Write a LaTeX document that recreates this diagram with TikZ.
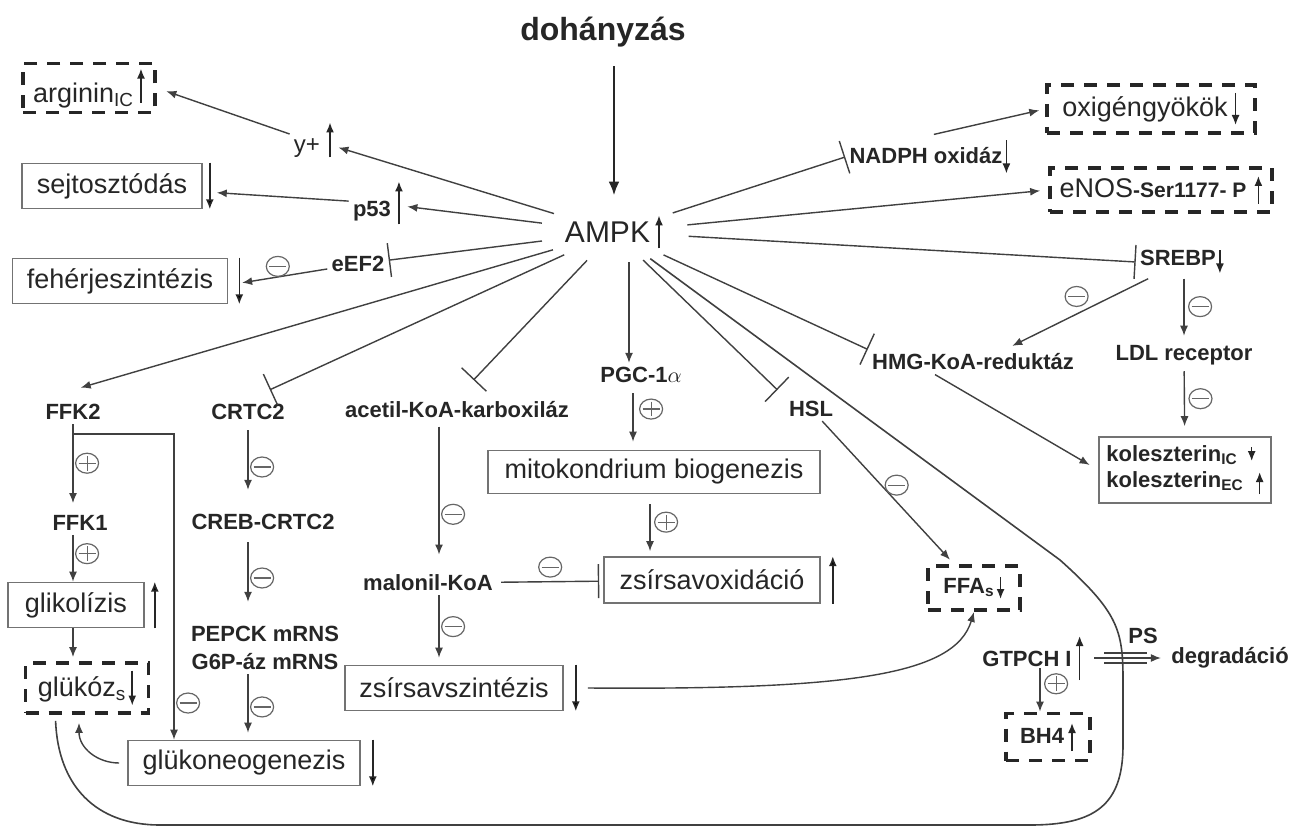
\documentclass[tikz,border=0pt]{standalone}
\usepackage{fontspec}
\setmainfont{Liberation Sans}
\usetikzlibrary{arrows.meta,shapes.geometric}
\tikzset{every edge/.style={draw, line width=0.7pt, black!75}}
\tikzset{
  lbl/.style={font=\fontsize{11}{14}\selectfont\bfseries, text=black!85, inner sep=2pt},
  doboz/.style={draw=black!55, line width=0.8pt, font=\fontsize{13.5}{16}\selectfont, text=black!85, inner sep=0pt},
  szagg/.style={draw=black!85, line width=1.9pt, dash pattern=on 6.5pt off 5pt, font=\fontsize{13.5}{16}\selectfont, text=black!85, inner sep=0pt},
  act/.style={-{Latex[length=5pt,width=4pt]}},
  inh/.style={-{Bar[width=17pt]}},
  ind/.style={solid, line width=0.8pt, draw=black!85, shorten <=0pt, shorten >=0pt, -{Latex[length=5pt,width=4pt]}},
  jel/.style={solid, draw=black!60, line width=0.6pt, arrows=-, shorten <=0pt, shorten >=0pt},
  kor/.style={ellipse, draw=black!60, line width=0.6pt, minimum width=11.5pt, minimum height=10pt, inner sep=0pt},
  minus/.style={kor, path picture={\draw[jel]
      ([xshift=1.5pt]path picture bounding box.west) -- ([xshift=-1.5pt]path picture bounding box.east);}},
  plus/.style={kor, path picture={\draw[jel]
      ([xshift=1.5pt]path picture bounding box.west) -- ([xshift=-1.5pt]path picture bounding box.east)
      ([yshift=-1.3pt]path picture bounding box.north) -- ([yshift=1.3pt]path picture bounding box.south);}}
}
\newcommand{\felnyil}[2][2pt]{\tikz[baseline=0pt]\draw[ind] (0pt,-#1) -- (0pt,#2);}
\newcommand{\lenyil}[2][2pt]{\tikz[baseline=0pt]\draw[ind] (0pt,#2) -- (0pt,-#1);}

\begin{document}
\begin{tikzpicture}[x=0.5pt, y=-0.5pt]
  \fill[white] (0,0) rectangle (1289,828);
  \useasboundingbox (0,0) rectangle (1289,828);

  \node[font=\fontsize{16}{18}\selectfont\bfseries, text=black!85] at (603, 32) (doh) {dohányzás};
  \node[ellipse, minimum width=75pt, minimum height=30pt, inner sep=0pt,
        font=\fontsize{15}{17}\selectfont, text=black!85] at (614, 232) (ampk) {AMPK\,\felnyil[3pt]{13.5pt}};

  % bal oldal
  \node[szagg, minimum width=66pt, minimum height=24.5pt] at (89, 88) (arginin) {arginin\textsubscript{IC}\hspace{1.5pt}\felnyil[0pt]{17pt}};
  \node[font=\fontsize{12}{14}\selectfont, text=black!85, inner sep=2pt] at (314, 140) (yplus) {y+\hspace{3pt}\felnyil[2.5pt]{15pt}};
  \node[doboz, minimum width=90pt, minimum height=22.5pt] at (112, 186) (sejt) {sejtosztódás};
  \node[lbl] at (378, 203) (p53) {p53\hspace{2pt}\felnyil[4pt]{17.5pt}};
  \node[doboz, minimum width=107.5pt, minimum height=22.5pt] at (120, 281) (feher) {fehérjeszintézis};
  \node[lbl] at (358, 264) (eef2) {eEF2};
  \node[lbl] at (73, 412) (ffk2) {FFK2};
  \node[lbl] at (80, 523) (ffk1) {FFK1};
  \node[doboz, minimum width=68pt, minimum height=22.5pt] at (76, 605) (glikol) {glikolízis};
  \node[szagg, minimum width=61.5pt, minimum height=25pt] at (87, 688) (glukoz) {glükóz\textsubscript{s}\hspace{1pt}\lenyil[4.5pt]{13pt}};
  \node[doboz, minimum width=116pt, minimum height=22.5pt] at (244, 763) (glukoneo) {glükoneogenezis};
  \node[lbl] at (248, 412) (crtc) {CRTC2};
  \node[lbl] at (263, 522) (creb) {CREB-CRTC2};
  \node[lbl, align=center] at (265, 648) (pepck) {PEPCK mRNS\\G6P-áz mRNS};

  % kozep
  \node[lbl] at (457, 410) (acetil) {acetil-KoA-karboxiláz};
  \node[lbl] at (428, 583) (malonil) {malonil-KoA};
  \node[doboz, minimum width=109pt, minimum height=22.5pt] at (454, 688) (zsszint) {zsírsavszintézis};
  \node[lbl] at (641, 375) (pgc) {PGC-1$\alpha$};
  \node[doboz, minimum width=166pt, minimum height=21.5pt] at (654, 472) (mito) {mitokondrium biogenezis};
  \node[doboz, minimum width=108pt, minimum height=23pt] at (712, 580) (zsox) {zsírsavoxidáció};
  \node[lbl] at (811, 409) (hsl) {HSL};
  \node[szagg, minimum width=46pt, minimum height=22pt, font=\fontsize{11}{13}\selectfont\bfseries] at (974, 588) (ffa) {FFA\textsubscript{s}\hspace{1pt}\lenyil[3pt]{8pt}};

  % jobb oldal
  \node[lbl] at (930, 157) (nadph) {NADPH oxidáz\lenyil[5pt]{11.5pt}};
  \node[szagg, minimum width=104pt, minimum height=24pt] at (1151, 109) (oxi) {oxigéngyökök\hspace{2pt}\lenyil[4pt]{12pt}};
  \node[szagg, minimum width=111pt, minimum height=22pt] at (1161, 190) (enos) {eNOS{\fontsize{10.5}{12}\selectfont\bfseries -Ser1177- P}\hspace{4pt}\felnyil[3pt]{11pt}};
  \node[lbl] at (1182, 262) (srebp) {SREBP\lenyil[4pt]{7.5pt}};
  \node[lbl] at (973, 362) (hmg) {HMG-KoA-reduktáz};
  \node[lbl] at (1184, 355) (ldl) {LDL receptor};
  \node[doboz, font=\fontsize{11}{13}\selectfont\bfseries, align=left, minimum width=86pt, minimum height=33pt] at (1185, 470) (kol)
    {koleszterin\textsubscript{IC}\hspace{5pt}\lenyil[0pt]{7pt}\\koleszterin\textsubscript{EC}\hspace{6pt}\felnyil[3.5pt]{7.5pt}};
  \node[lbl] at (1033, 658) (gtpch) {GTPCH I\hspace{2pt}\felnyil[7pt]{15pt}};
  \node[szagg, minimum width=42pt, minimum height=23.5pt, font=\fontsize{11}{13}\selectfont\bfseries] at (1048, 737) (bh4) {BH4\hspace{2pt}\felnyil[4pt]{10pt}};
  \node[lbl] at (1143, 636) (ps) {PS};
  \node[lbl] at (1230, 658) (degr) {degradáció};

  \draw[line width=1.4pt, black!85, -{Latex[length=7pt,width=5.5pt]}, shorten <=6pt, shorten >=3pt] (doh.south -| ampk) -- (ampk);

  % AMPK sugarai
  \draw (ampk) edge[act] (yplus)
        (ampk) edge[act] (p53)
        (ampk) edge[inh] (eef2)
        (ampk) edge[act, shorten >=4pt] ([yshift=5pt]ffk2.north)
        (ampk) edge[inh, shorten >=12pt] (crtc.north)
        (ampk) edge[inh, shorten >=12pt] (acetil.north)
        ([xshift=-6pt]ampk.south -| pgc.north) edge[act] ([xshift=-6pt]pgc.north)
        (ampk) edge[inh, shorten >=5pt] (hsl.north west)
        (ampk) edge[inh] (hmg.north west)
        (ampk) edge[inh] (nadph.west)
        (ampk) edge[act, shorten >=4pt] (enos.west)
        (ampk) edge[inh] (srebp.west);

  \draw ([yshift=3pt]yplus.west) edge[act, shorten >=5pt] (arginin.east)
        (p53) edge[act, shorten >=7pt] (sejt)
        (eef2) edge[act, shorten >=7pt] node[minus, above=0pt] {} ([yshift=-2pt]feher.east);

  % glikolizis
  \draw (ffk2) edge[act, shorten >=4pt] node[plus, right=1pt, pos=0.45] {} (ffk2 |- ffk1.north)
        (ffk2 |- ffk1.south) edge[act] node[plus, right=1pt, pos=0.4] {} (ffk2 |- glikol.north)
        (ffk2 |- glikol.south) edge[act, shorten >=2pt] (ffk2 |- glukoz.north);
  \draw[line width=0.7pt, black!75, act] ([yshift=-5pt]ffk2.south) -| node[minus, right=1pt, pos=0.94] {} ([xshift=-35pt]glukoneo.north);
  \draw[line width=0.7pt, black!75, act, shorten <=4pt] (glukoneo.west) .. controls +(-30,0) and +(0,25) .. ([shift={(-4pt,-4pt)}]glukoz.south);

  % CRTC2
  \draw (crtc) edge[act, shorten <=3pt, shorten >=10pt] node[minus, right=1pt] {} (crtc |- creb.north)
        (crtc |- creb.south) edge[act, shorten <=4pt, shorten >=10pt] node[minus, right=1pt] {} (crtc |- pepck.north)
        (crtc |- pepck.south) edge[act, shorten >=3.5pt] node[minus, right=1pt] {} (crtc |- glukoneo.north);

  % zsirsav
  \draw ([xshift=-9pt]acetil.south) edge[act, shorten <=2pt, shorten >=8pt] node[minus, right=1pt, pos=0.62] {} ([xshift=-9pt]acetil.south |- malonil.north)
        ([xshift=-9pt]acetil.south |- malonil.south) edge[act, shorten >=3.5pt] node[minus, right=1pt, pos=0.45] {} ([xshift=-9pt]acetil.south |- zsszint.north)
        (malonil) edge[inh, shorten <=2pt, shorten >=2pt] node[minus, above=2pt] {} (zsox)
        ([xshift=-4pt]pgc.south) edge[act, shorten <=3pt, shorten >=4pt] node[plus, right=3pt, pos=0.35] {} ([xshift=-4pt]pgc.south |- mito.north)
        ([xshift=-2pt]mito.south) edge[act, shorten <=5pt, shorten >=2.5pt] node[plus, right=2pt, pos=0.45] {} ([xshift=-2pt]mito.south |- zsox.north)
        (hsl) edge[act, shorten >=3pt] node[minus, above right=0pt] {} ([xshift=-10pt]ffa.north);
  \draw[line width=0.7pt, black!75, act] ([xshift=12pt]zsszint.east) .. controls (850,690) and (955,675) .. (ffa.south);

  % koleszterin
  \draw (srebp) edge[act, shorten >=4pt] node[minus, above=3.5pt] {} ([xshift=16pt]hmg.north)
        (srebp.south -| ldl) edge[act, shorten >=2.5pt] node[minus, right=2pt, pos=0.45] {} (ldl)
        (ldl) edge[act, shorten <=1pt, shorten >=5pt] node[minus, right=2pt, pos=0.44] {} (kol)
        ([xshift=-19pt]hmg.south) edge[act, shorten >=5pt] (kol.west)
        (nadph.north) edge[act, shorten <=2pt, shorten >=3pt] (oxi.west);

  % GTPCH
  \draw (gtpch.east) edge[act, shorten <=3pt, shorten >=3pt] (degr.west)
        ([shift={(8pt,2.5pt)}]gtpch.east) edge ([shift={(-10pt,2.5pt)}]degr.west)
        ([shift={(8pt,-2.5pt)}]gtpch.east) edge ([shift={(-10pt,-2.5pt)}]degr.west)
        ([xshift=-4pt]gtpch.base -| bh4.north) edge[act, shorten <=1pt] node[plus, right=2pt, pos=0.39] {} ([xshift=-4pt]bh4.north);

  % membran vonal
  \draw[line width=0.8pt, black!75] (ampk) -- (1060,560) .. controls (1118,612) and (1123,630) .. (1123,680)
    -- (1123,745) .. controls (1123,805) and (1095,825) .. (1030,825) -- (160,825)
    .. controls (95,825) and (58,785) .. ([shift={(16pt,-3pt)}]glukoz.south west);

  % nyilak a dobozok mellett
  \foreach \b/\s in {sejt/3.5pt, feher/5.5pt, glukoneo/6pt, zsszint/6pt}
    \draw[ind] ([xshift=\s]\b.north east) -- ([xshift=\s]\b.south east);
  \foreach \b/\s in {glikol/5pt, zsox/6pt}
    \draw[ind] ([xshift=\s]\b.south east) -- ([xshift=\s]\b.north east);
\end{tikzpicture}
\end{document}
